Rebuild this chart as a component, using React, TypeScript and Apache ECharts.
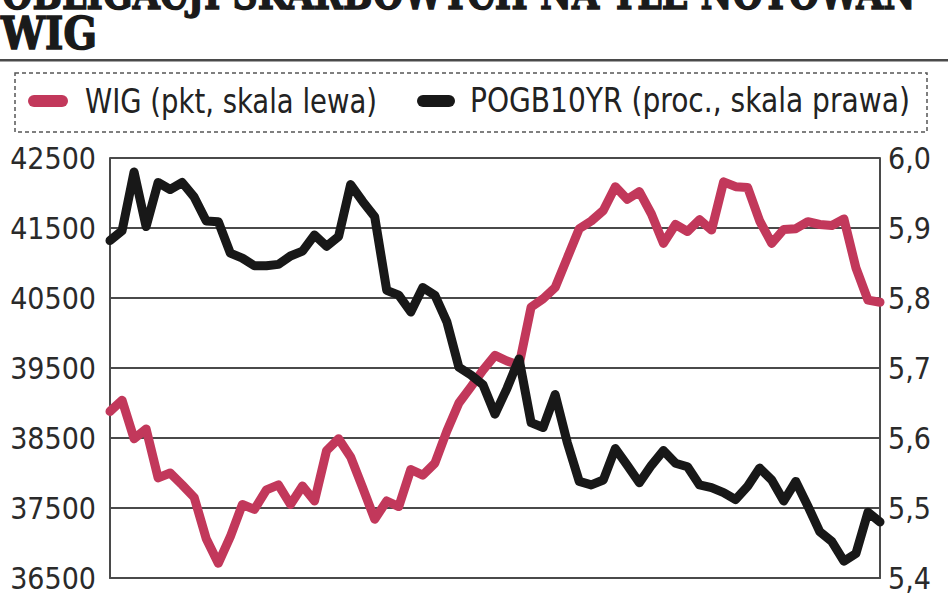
import React, { useEffect, useRef } from "react";
import * as echarts from "echarts";

const titleLine1 = "OBLIGACJI SKARBOWYCH NA TLE NOTOWAŃ";
const titleLine2 = "WIG";
const legendWig = "WIG (pkt, skala lewa)";
const legendBond = "POGB10YR (proc., skala prawa)";

const days: string[] = Array.from({ length: 65 }, (_, i) => String(i + 1));

const wig: number[] = [
  38880, 39040, 38490, 38630, 37930, 38000, 37830, 37650, 37060, 36710,
  37090, 37550, 37480, 37760, 37830, 37550, 37815, 37600, 38320, 38490,
  38230, 37790, 37340, 37600, 37520, 38050, 37970, 38140, 38600, 39000,
  39230, 39470, 39680, 39600, 39540, 40370, 40490, 40650, 41070, 41490,
  41600, 41750, 42090, 41910, 42020, 41700, 41280, 41550, 41450, 41620,
  41470, 42160, 42090, 42080, 41600, 41280, 41480, 41490, 41590, 41550,
  41535, 41630, 40930, 40470, 40440,
];

const pogb10yr: number[] = [
  5.882, 5.896, 5.98, 5.902, 5.965, 5.955, 5.965, 5.944, 5.91, 5.909,
  5.864, 5.857, 5.846, 5.846, 5.848, 5.86, 5.867, 5.89, 5.874, 5.888,
  5.962, 5.938, 5.916, 5.811, 5.804, 5.78, 5.815, 5.804, 5.766, 5.701,
  5.69, 5.676, 5.634, 5.671, 5.713, 5.622, 5.615, 5.662, 5.594, 5.538,
  5.533, 5.54, 5.585, 5.561, 5.536, 5.561, 5.582, 5.564, 5.559, 5.533,
  5.529, 5.522, 5.512, 5.531, 5.557, 5.54, 5.51, 5.538, 5.503, 5.466,
  5.452, 5.424, 5.435, 5.494, 5.48,
];

const RED = "#c2385b";
const BLACK = "#181818";
const SANS = '"DejaVu Sans Condensed", "Liberation Sans Narrow", "DejaVu Sans", sans-serif';
const SERIF = '"DejaVu Serif", "Liberation Serif", serif';

function measure(text: string, weight: string, size: number, family: string): number {
  const ctx = document.createElement("canvas").getContext("2d");
  if (!ctx) return 1;
  ctx.font = `${weight} ${size}px ${family}`;
  return ctx.measureText(text).width || 1;
}

function fitText(
  text: string, x: number, y: number, width: number, size: number,
  family: string, weight: string, fill: string, strokeW = 0
) {
  const w = measure(text, weight, size, family);
  const style: any = {
    text,
    fontSize: size,
    fontFamily: family,
    fontWeight: weight,
    fill,
    align: "left",
    verticalAlign: "middle",
  };
  if (strokeW > 0) {
    style.stroke = fill;
    style.lineWidth = strokeW;
  }
  return { type: "text", x, y, scaleX: width / w, style };
}

export default function App() {
  const ref = useRef<HTMLDivElement>(null);

  useEffect(() => {
    if (!ref.current) return;
    const chart = echarts.init(ref.current, undefined, { renderer: "svg" });
    const gridColor = "#4a4a4a";
    chart.setOption({
      animation: false,
      backgroundColor: "#ffffff",
      grid: { left: 110, right: 68, top: 158, bottom: 6, containLabel: false },
      xAxis: {
        type: "category",
        data: days,
        boundaryGap: false,
        axisLine: { show: true, lineStyle: { color: gridColor, width: 2 } },
        axisTick: { show: false },
        axisLabel: { show: false },
        splitLine: { show: false },
      },
      yAxis: [
        {
          type: "value",
          min: 36500,
          max: 42500,
          interval: 1000,
          position: "left",
          axisLine: { show: true, lineStyle: { color: gridColor, width: 2 } },
          axisTick: { show: false },
          splitLine: { show: true, lineStyle: { color: gridColor, width: 2 } },
          axisLabel: {
            color: "#2a2a2a",
            fontSize: 30,
            fontFamily: SANS,
            margin: 14,
            formatter: (v: number) => String(Math.round(v)),
          },
        },
        {
          type: "value",
          min: 5.4,
          max: 6.0,
          interval: 0.1,
          position: "right",
          axisLine: { show: true, lineStyle: { color: gridColor, width: 2 } },
          axisTick: { show: false },
          splitLine: { show: false },
          axisLabel: {
            color: "#2a2a2a",
            fontSize: 30,
            fontFamily: SANS,
            margin: 8,
            formatter: (v: number) => v.toFixed(1).replace(".", ","),
          },
        },
      ],
      series: [
        {
          name: legendWig,
          type: "line",
          yAxisIndex: 0,
          data: wig,
          showSymbol: false,
          symbol: "none",
          lineStyle: { color: RED, width: 9, cap: "round", join: "round" },
          itemStyle: { color: RED },
          z: 3,
        },
        {
          name: legendBond,
          type: "line",
          yAxisIndex: 1,
          data: pogb10yr,
          showSymbol: false,
          symbol: "none",
          lineStyle: { color: BLACK, width: 9, cap: "round", join: "round" },
          itemStyle: { color: BLACK },
          z: 4,
        },
      ],
      graphic: [
        fitText(titleLine1, 2, -7, 914, 44, SERIF, "bold", "#1a1a1a", 1.5),
        fitText(titleLine2, 1, 34, 96, 44, SERIF, "bold", "#1a1a1a", 1.5),
        {
          type: "rect",
          shape: { x: 0, y: 59, width: 948, height: 2.5 },
          style: { fill: "#4a4a4a" },
        },
        {
          type: "rect",
          shape: { x: 15, y: 73, width: 912, height: 59 },
          style: { fill: "none", stroke: "#555", lineWidth: 1.5, lineDash: [4, 3] },
        },
        {
          type: "rect",
          shape: { x: 28, y: 95, width: 40, height: 12, r: 6 },
          style: { fill: RED },
        },
        fitText(legendWig, 85, 101, 292, 34, SANS, "normal", "#222"),
        {
          type: "rect",
          shape: { x: 417, y: 95, width: 38, height: 12, r: 6 },
          style: { fill: BLACK },
        },
        fitText(legendBond, 470, 101, 440, 34, SANS, "normal", "#222"),
      ],
    });
    return () => chart.dispose();
  }, []);

  return (
    <div
      ref={ref}
      style={{ position: "fixed", left: 0, top: 0, width: 948, height: 593, background: "#fff" }}
    />
  );
}
